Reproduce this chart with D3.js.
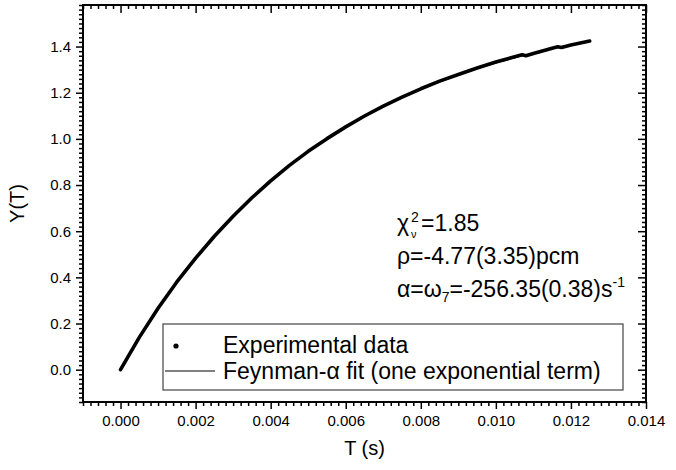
<!DOCTYPE html>
<html lang="en">
<head>
    <meta charset="UTF-8">
    <title>Feynman-alpha fit</title>
    <script src="https://d3js.org/d3.v7.min.js"></script>
    <style>
        body { margin: 0; background: #fff; }
        svg { display: block; font-family: "Liberation Sans", Arial, sans-serif; }
        .tick text { font-size: 15px; fill: #000; }
        .tick line { stroke: #000; stroke-width: 1.5; }
    </style>
</head>
<body>
    <div id="chart"></div>
    <script>
        // gate times T (s) and Y(T)
        const expT = [0, 0.0005, 0.001, 0.0015, 0.002, 0.0025, 0.003, 0.0035, 0.004, 0.0045,
                      0.005, 0.0055, 0.006, 0.0065, 0.007, 0.0075, 0.008, 0.0085, 0.009, 0.0095,
                      0.01, 0.0105, 0.0107, 0.0108, 0.011, 0.0115, 0.01165, 0.01175, 0.012, 0.0125];
        const expY = [0, 0.140, 0.266, 0.380, 0.483, 0.578, 0.665, 0.745, 0.818, 0.885,
                      0.946, 1.001, 1.052, 1.099, 1.142, 1.181, 1.217, 1.250, 1.279, 1.307,
                      1.333, 1.356, 1.364, 1.360, 1.370, 1.393, 1.399, 1.396, 1.407, 1.424];
        const fitT = [0, 0.0005, 0.001, 0.0015, 0.002, 0.0025, 0.003, 0.0035, 0.004, 0.0045,
                      0.005, 0.0055, 0.006, 0.0065, 0.007, 0.0075, 0.008, 0.0085, 0.009, 0.0095,
                      0.01, 0.0105, 0.011, 0.0115, 0.012, 0.0125];
        const fitY = [0, 0.140, 0.265, 0.378, 0.481, 0.577, 0.664, 0.744, 0.817, 0.884,
                      0.945, 1.000, 1.051, 1.098, 1.140, 1.179, 1.215, 1.247, 1.277, 1.304,
                      1.329, 1.351, 1.372, 1.391, 1.408, 1.424];
        const xTicks = [0, 0.002, 0.004, 0.006, 0.008, 0.010, 0.012, 0.014];
        const yTicks = [0, 0.2, 0.4, 0.6, 0.8, 1.0, 1.2, 1.4];
        const legendLabels = ["Experimental data", "Feynman-\u03b1 fit (one exponential term)"];

        const width = 676, height = 470;
        const m = { left: 83, right: 646, top: 5, bottom: 402 };

        const svg = d3.select('#chart').append('svg')
            .attr('width', width).attr('height', height);

        const x = d3.scaleLinear().domain([-0.001, 0.014]).range([m.left, m.right]);
        const y = d3.scaleLinear().domain([-0.14, 1.58]).range([m.bottom, m.top]);

        const xMinor = d3.range(-5, 71).map(i => +(i * 0.0002).toFixed(4)).filter(v => !xTicks.includes(v));
        const yMinor = d3.range(-7, 80).map(i => +(i * 0.02).toFixed(2)).filter(v => !yTicks.includes(v));

        function addAxis(axis, tx, ty, labels) {
            const g = svg.append('g').attr('transform', `translate(${tx},${ty})`).call(axis);
            g.select('.domain').remove();
            if (!labels) g.selectAll('text').remove();
            return g;
        }

        // bottom / left: ticks outward, with labels
        addAxis(d3.axisBottom(x).tickValues(xTicks).tickSize(7).tickPadding(6).tickFormat(d3.format('.3f')), 0, m.bottom, true);
        addAxis(d3.axisBottom(x).tickValues(xMinor).tickSize(4), 0, m.bottom, false);
        addAxis(d3.axisLeft(y).tickValues(yTicks).tickSize(7).tickPadding(5).tickFormat(d3.format('.1f')), m.left, 0, true);
        addAxis(d3.axisLeft(y).tickValues(yMinor).tickSize(4), m.left, 0, false);
        // top / right: ticks inward, no labels
        addAxis(d3.axisBottom(x).tickValues(xTicks).tickSize(8), 0, m.top, false);
        addAxis(d3.axisBottom(x).tickValues(xMinor).tickSize(4), 0, m.top, false);
        addAxis(d3.axisLeft(y).tickValues(yTicks).tickSize(8), m.right, 0, false);
        addAxis(d3.axisLeft(y).tickValues(yMinor).tickSize(4), m.right, 0, false);

        svg.append('rect')
            .attr('x', m.left).attr('y', m.top)
            .attr('width', m.right - m.left).attr('height', m.bottom - m.top)
            .attr('fill', 'none').attr('stroke', '#000').attr('stroke-width', 2);

        // axis titles
        svg.append('text')
            .attr('x', (m.left + m.right) / 2).attr('y', 455)
            .attr('text-anchor', 'middle').attr('font-size', 20)
            .text('T (s)');
        svg.append('text')
            .attr('transform', `translate(29,${(m.top + m.bottom) / 2}) rotate(-90)`)
            .attr('text-anchor', 'middle').attr('font-size', 20)
            .attr('dy', -5)
            .text('Y(T)');

        // experimental data (dense points) and fit
        const expPts = expT.map((t, i) => [t, expY[i]]);
        const fitPts = fitT.map((t, i) => [t, fitY[i]]);
        const line = d3.line().x(d => x(d[0])).y(d => y(d[1]));

        svg.append('path')
            .attr('d', line(expPts))
            .attr('fill', 'none').attr('stroke', '#000')
            .attr('stroke-width', 3.6).attr('stroke-linejoin', 'round').attr('stroke-linecap', 'round');
        svg.append('path')
            .attr('d', line.curve(d3.curveMonotoneX)(fitPts))
            .attr('fill', 'none').attr('stroke', '#000').attr('stroke-width', 1.2);

        // fit parameters
        const ann = svg.append('g').attr('font-size', 23);
        const ax = 397;
        const chi = ann.append('text').attr('x', ax).attr('y', 231).text('\u03c7');
        const cw = chi.node().getComputedTextLength();
        ann.append('text').attr('x', ax + cw + 2).attr('y', 222).attr('font-size', 14).text('2');
        ann.append('text').attr('x', ax + cw + 2).attr('y', 238).attr('font-size', 11).text('\u03bd');
        ann.append('text').attr('x', ax + cw + 12).attr('y', 231).text('=1.85');

        ann.append('text').attr('x', ax).attr('y', 264).text('\u03c1=-4.77(3.35)pcm');

        const l3 = ann.append('text').attr('x', ax).attr('y', 297);
        l3.append('tspan').text('\u03b1=\u03c9');
        l3.append('tspan').attr('dy', 5).attr('font-size', 14).text('7');
        l3.append('tspan').attr('dy', -5).text('=-256.35(0.38)s');
        l3.append('tspan').attr('dy', -10).attr('font-size', 14).text('-1');

        // legend
        const lg = svg.append('g');
        lg.append('rect')
            .attr('x', 163).attr('y', 324).attr('width', 460).attr('height', 66)
            .attr('fill', '#fff').attr('stroke', '#444').attr('stroke-width', 1.2);
        lg.append('circle').attr('cx', 176).attr('cy', 346).attr('r', 2.6).attr('fill', '#000');
        lg.append('line').attr('x1', 165).attr('x2', 215).attr('y1', 371).attr('y2', 371)
            .attr('stroke', '#000').attr('stroke-width', 1);
        lg.selectAll('text.lbl').data(legendLabels).enter().append('text')
            .attr('class', 'lbl')
            .attr('x', 223).attr('y', (d, i) => 353 + i * 26)
            .attr('font-size', 23)
            .text(d => d);
    </script>
</body>
</html>
